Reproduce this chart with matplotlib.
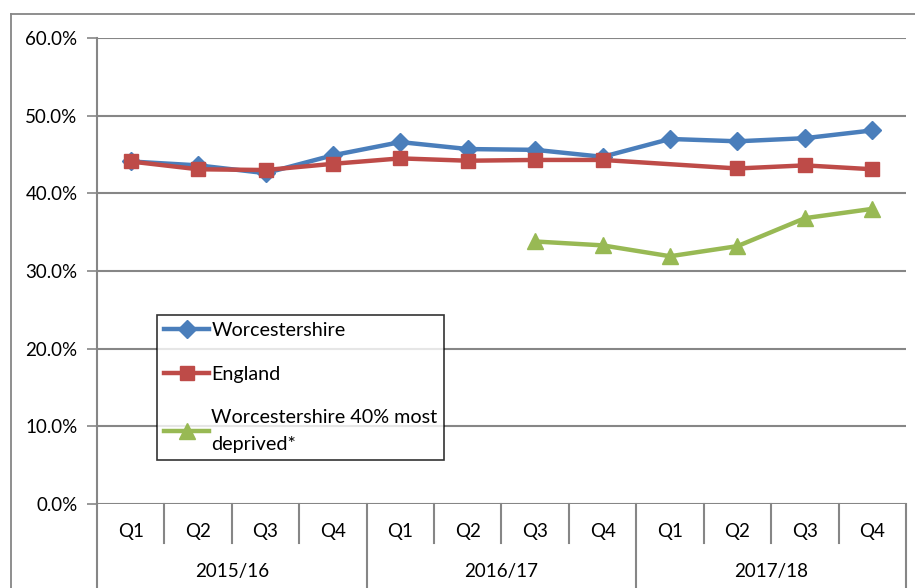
import numpy as np
import matplotlib
matplotlib.use("Agg")
import matplotlib.pyplot as plt
from matplotlib.transforms import blended_transform_factory
from matplotlib.lines import Line2D

quarters = ["Q1", "Q2", "Q3", "Q4"] * 3
years = ["2015/16", "2016/17", "2017/18"]
worcestershire = [44.1, 43.6, 42.6, 44.9, 46.6, 45.7, 45.6, 44.7, 47.0, 46.7, 47.1, 48.1]
england = [44.1, 43.1, 43.0, 43.8, 44.5, 44.2, 44.3, 44.3, np.nan, 43.2, 43.6, 43.1]
deprived = [np.nan, np.nan, np.nan, np.nan, np.nan, np.nan, 33.8, 33.3, 31.9, 33.2, 36.8, 38.0]
yticks = [0, 10, 20, 30, 40, 50, 60]

plt.rcParams['font.family'] = ['Lato', 'DejaVu Sans']

W, H = 915, 588
fig = plt.figure(figsize=(W / 100, H / 100), dpi=100)
L, R, T, B = 97, 906, 38, 504
ax = fig.add_axes([L / W, 1 - B / H, (R - L) / W, (B - T) / H])

x = np.arange(len(quarters))
grid_c = "#868686"
FS = 13.5

def plot_series(vals, color, marker, ms, label):
    v = np.array(vals, dtype=float)
    m = ~np.isnan(v)
    ax.plot(x[m], v[m], color=color, lw=3.2, marker=marker, ms=ms,
            markeredgecolor=color, markerfacecolor=color, label=label,
            solid_joinstyle='round', zorder=3, clip_on=False)

plot_series(worcestershire, "#4A7EBB", "D", 9, "Worcestershire")
plot_series(england, "#BE4B48", "s", 10, "England")
plot_series(deprived, "#98B954", "^", 11, "Worcestershire 40% most\ndeprived*")

ax.set_xlim(-0.5, len(quarters) - 0.5)
ax.set_ylim(0, 60)
ax.set_yticks(yticks)
ax.set_yticklabels([f"{t:.1f}%" for t in yticks], fontsize=FS)
ax.tick_params(axis='y', length=7, width=1.2, color=grid_c, pad=7)
ax.set_xticks([])
for t in yticks:
    ax.axhline(t, color=grid_c, lw=1.5, zorder=1)
for s in ["top", "right", "bottom"]:
    ax.spines[s].set_visible(False)
ax.spines["left"].set_color(grid_c)
ax.spines["left"].set_linewidth(1.5)

# multi-level category axis
tr = blended_transform_factory(ax.transData, ax.transAxes)
ph = B - T
def ay(py):
    return (B - py) / ph
for i, q in enumerate(quarters):
    ax.text(i, ay(531), q, transform=tr, ha='center', va='center', fontsize=FS)
for j, yr in enumerate(years):
    ax.text(4 * j + 1.5, ay(572), yr, transform=tr, ha='center', va='center', fontsize=FS)
for k in range(len(quarters) + 1):
    xb = k - 0.5
    if k % 4 == 0:
        y_end = ay(588)
    else:
        y_end = ay(543)
    ax.add_line(Line2D([xb, xb], [0, y_end], transform=tr, color=grid_c, lw=1.5, clip_on=False))

# legend
leg = ax.legend(loc='upper left', bbox_to_anchor=((157 - L) / (R - L), ay(315)),
                frameon=True, fancybox=False, edgecolor='black', fontsize=FS + 0.7,
                handlelength=2.3, handletextpad=0.1, labelspacing=1.35,
                borderpad=0.35, borderaxespad=0)
leg.get_frame().set_linewidth(1.2)
leg.get_texts()[2].set_linespacing(1.7)

# outer chart frame
fig.add_artist(Line2D([11 / W, 11 / W], [0, 1 - 14 / H], color=grid_c, lw=1.3))
fig.add_artist(Line2D([11 / W, 1], [1 - 14 / H, 1 - 14 / H], color=grid_c, lw=1.3))

fig.savefig("out.png", dpi=100)
